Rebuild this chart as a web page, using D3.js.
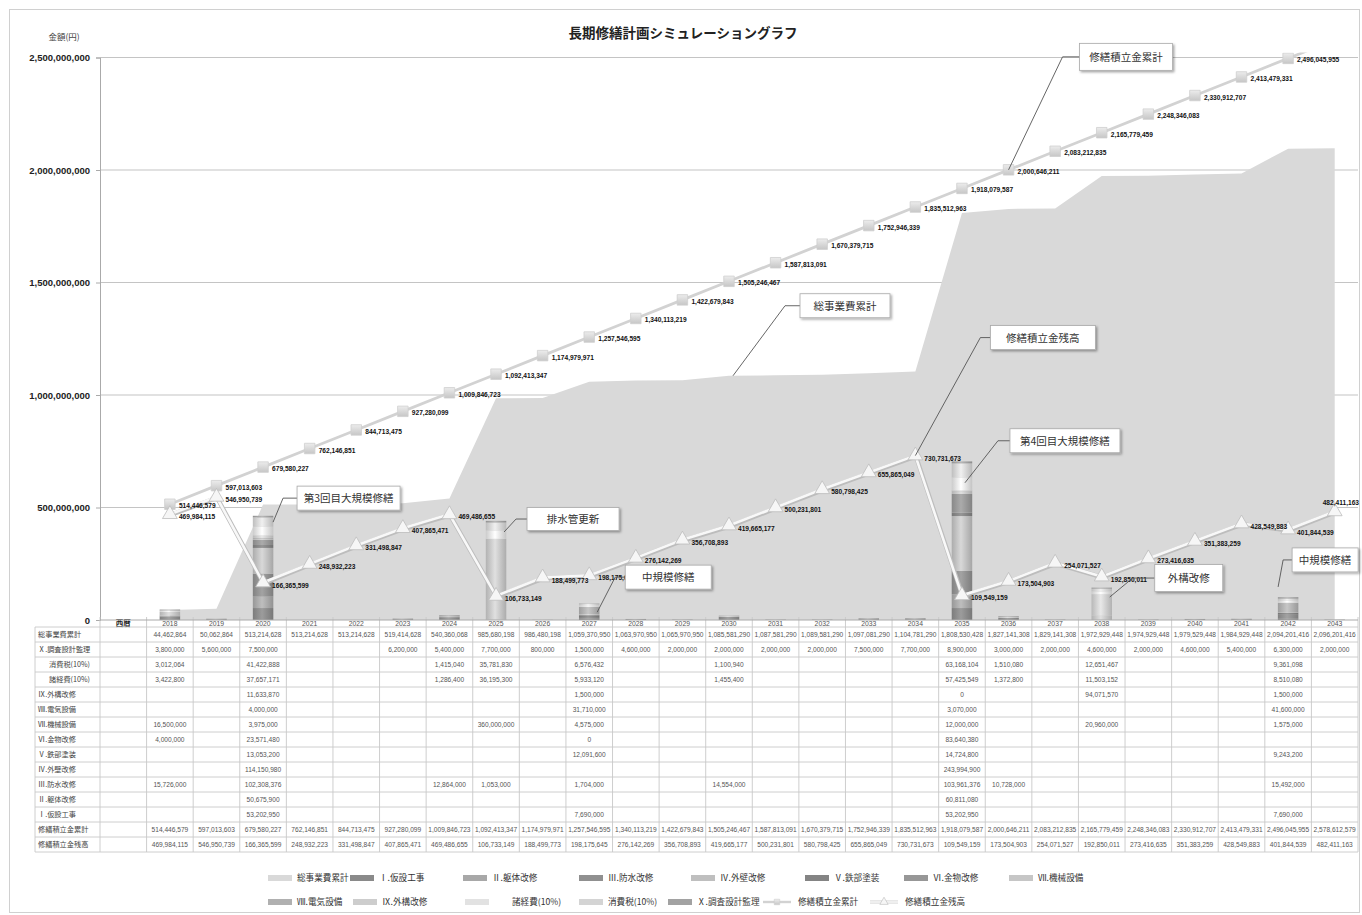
<!DOCTYPE html>
<html><head><meta charset="utf-8">
<script src="https://cdn.jsdelivr.net/npm/d3@7"></script>
<style>
body{margin:0;background:#fff;}
svg{font-family:"Noto Sans CJK JP","Noto Sans",sans-serif;}
</style></head><body>
<svg id="c" width="1362" height="915"></svg>
<script>
// ---------------- DATA ----------------
const headerLabel = "西暦";
const years = ["2018","2019","2020","2021","2022","2023","2024","2025","2026","2027","2028","2029","2030",
  "2031","2032","2033","2034","2035","2036","2037","2038","2039","2040","2041","2042","2043"];
const categories = [headerLabel, ...years];
const N = null;
const totalCumulative = [44462864,50062864,513214628,513214628,513214628,519414628,540360068,985680198,986480198,
  1059370950,1063970950,1065970950,1085581290,1087581290,1089581290,1097081290,1104781290,1808530428,1827141308,
  1829141308,1972929448,1974929448,1979529448,1984929448,2094201416,2096201416];
const costX = [3800000,5600000,7500000,N,N,6200000,5400000,7700000,800000,1500000,4600000,2000000,2000000,2000000,
  2000000,7500000,7700000,8900000,3000000,2000000,4600000,2000000,4600000,5400000,6300000,2000000];
const consumptionTax = [3012064,N,41422888,N,N,N,1415040,35781830,N,6576432,N,N,1100940,N,N,N,N,63168104,1510080,N,
  12651467,N,N,N,9361098,N];
const overhead = [3422800,N,37657171,N,N,N,1286400,36195300,N,5933120,N,N,1455400,N,N,N,N,57425549,1372800,N,
  11503152,N,N,N,8510080,N];
const cost9 = [N,N,11633870,N,N,N,N,N,N,1500000,N,N,N,N,N,N,N,0,N,N,94071570,N,N,N,1500000,N];
const cost8 = [N,N,4000000,N,N,N,N,N,N,31710000,N,N,N,N,N,N,N,3070000,N,N,N,N,N,N,41600000,N];
const cost7 = [16500000,N,3975000,N,N,N,N,360000000,N,4575000,N,N,N,N,N,N,N,12000000,N,N,20960000,N,N,N,1575000,N];
const cost6 = [4000000,N,23571480,N,N,N,N,N,N,0,N,N,N,N,N,N,N,83640380,N,N,N,N,N,N,N,N];
const cost5 = [N,N,13053200,N,N,N,N,N,N,12091600,N,N,N,N,N,N,N,14724800,N,N,N,N,N,N,9243200,N];
const cost4 = [N,N,114150980,N,N,N,N,N,N,N,N,N,N,N,N,N,N,243994900,N,N,N,N,N,N,N,N];
const cost3 = [15726000,N,102308376,N,N,N,12864000,1053000,N,1704000,N,N,14554000,N,N,N,N,103961376,10728000,N,
  N,N,N,N,15492000,N];
const cost2 = [N,N,50675900,N,N,N,N,N,N,N,N,N,N,N,N,N,N,60811080,N,N,N,N,N,N,N,N];
const cost1 = [N,N,53202950,N,N,N,N,N,N,7690000,N,N,N,N,N,N,N,53202950,N,N,N,N,N,N,7690000,N];
const reserveCumulative = [514446579,597013603,679580227,762146851,844713475,927280099,1009846723,1092413347,
  1174979971,1257546595,1340113219,1422679843,1505246467,1587813091,1670379715,1752946339,1835512963,1918079587,
  2000646211,2083212835,2165779459,2248346083,2330912707,2413479331,2496045955,2578612579];
const reserveBalance = [469984115,546950739,166365599,248932223,331498847,407865471,469486655,106733149,188499773,
  198175645,276142269,356708893,419665177,500231801,580798425,655865049,730731673,109549159,173504903,254071527,
  192850011,273416635,351383259,428549883,401844539,482411163];
const yTicks = [0,500000000,1000000000,1500000000,2000000000,2500000000];

const costKeys = ["Ⅰ.仮設工事","Ⅱ.躯体改修","Ⅲ.防水改修","Ⅳ.外壁改修","Ⅴ.鉄部塗装","Ⅵ.金物改修","Ⅶ.機械設備",
  "Ⅷ.電気設備","Ⅸ.外構改修","諸経費(10%)","消費税(10%)","Ⅹ.調査設計監理"];
const costArrays = [cost1,cost2,cost3,cost4,cost5,cost6,cost7,cost8,cost9,overhead,consumptionTax,costX];
const costColors = ["#8a8a8a","#a8a8a8","#909090","#bfbfbf","#848484","#979797","#c6c6c6","#b0b0b0","#cdcdcd",
  "#e2e2e2","#d4d4d4","#a2a2a2"];

// ---------------- SETUP ----------------
const W = 1362, H = 915;
const svg = d3.select("#c");
const plotL = 100, plotR = 1358, plotT = 57.5, plotB = 620;
const x = d3.scaleBand().domain(categories).range([plotL, plotR]);
const y = d3.scaleLinear().domain([0, 2500000000]).range([plotB, plotT]);
const yMax = y.domain()[1];
const cx = c => x(c) + x.bandwidth() / 2;
const barW = x.bandwidth() * 0.44;
const fmt = d3.format(",");

const defs = svg.append("defs");
costColors.forEach((c, i) => {
  const g = defs.append("linearGradient").attr("id", "g" + i).attr("x1", "0").attr("x2", "1").attr("y1", "0").attr("y2", "0");
  g.append("stop").attr("offset", "0%").attr("stop-color", d3.color(c).darker(0.3));
  g.append("stop").attr("offset", "45%").attr("stop-color", d3.color(c).brighter(0.35));
  g.append("stop").attr("offset", "100%").attr("stop-color", d3.color(c).darker(0.4));
});
const sg = defs.append("linearGradient").attr("id", "sq").attr("x1", "0").attr("x2", "0").attr("y1", "0").attr("y2", "1");
sg.append("stop").attr("offset", "0%").attr("stop-color", "#ececec");
sg.append("stop").attr("offset", "100%").attr("stop-color", "#c6c6c6");
const sh = defs.append("filter").attr("id", "shadow").attr("x", "-20%").attr("y", "-20%").attr("width", "150%").attr("height", "160%");
sh.append("feDropShadow").attr("dx", 1.5).attr("dy", 1.5).attr("stdDeviation", 1.2).attr("flood-color", "#000").attr("flood-opacity", 0.35);
defs.append("clipPath").attr("id", "plotClip").append("rect")
  .attr("x", 0).attr("y", plotT - 5).attr("width", W).attr("height", H);

// outer frame
svg.append("rect").attr("x", 9.5).attr("y", 9.5).attr("width", 1350).attr("height", 903)
  .attr("fill", "#fff").attr("stroke", "#d0d0d0");

// title
svg.append("text").attr("x", 683).attr("y", 38).attr("text-anchor", "middle")
  .attr("font-size", 13.5).attr("font-weight", "bold").attr("fill", "#222").text("長期修繕計画シミュレーショングラフ");
svg.append("text").attr("x", 64).attr("y", 40).attr("text-anchor", "middle")
  .attr("font-size", 8.5).attr("fill", "#444").text("金額(円)");

// gridlines
svg.append("g").selectAll("line").data(yTicks.filter(d => d > 0)).join("line")
  .attr("x1", plotL).attr("x2", plotR).attr("y1", d => y(d)).attr("y2", d => y(d))
  .attr("stroke", "#c4c4c4").attr("stroke-width", 1.2);

// y axis
const ya = svg.append("g").attr("transform", `translate(${plotL},0)`)
  .call(d3.axisLeft(y).tickValues(yTicks).tickFormat(fmt).tickSize(4).tickPadding(6));
ya.select(".domain").attr("stroke", "#aaa");
ya.selectAll(".tick line").attr("stroke", "#aaa");
ya.selectAll("text").attr("font-family", "Liberation Sans, Arial, sans-serif").attr("font-size", 9.5)
  .attr("font-weight", "bold").attr("fill", "#222");

// area: 総事業費累計
const areaData = years.map((yr, i) => ({ cat: yr, v: totalCumulative[i] }));
svg.append("path").datum(areaData)
  .attr("d", d3.area().x(d => cx(d.cat)).y0(plotB).y1(d => y(d.v)))
  .attr("fill", "#d9d9d9");

// stacked bars
const rows = years.map((yr, i) => {
  const o = { cat: yr };
  costKeys.forEach((k, j) => { o[k] = costArrays[j][i] || 0; });
  return o;
});
const stacked = d3.stack().keys(costKeys)(rows);
svg.append("g").selectAll("g").data(stacked).join("g")
  .attr("fill", (d, i) => `url(#g${i})`)
  .selectAll("rect").data(d => d.filter(p => p[1] - p[0] > 0)).join("rect")
  .attr("x", d => cx(d.data.cat) - barW / 2).attr("width", barW)
  .attr("y", d => y(d[1])).attr("height", d => y(d[0]) - y(d[1]));

// lines (clipped to the plot's top like the original)
const lines = svg.append("g").attr("clip-path", "url(#plotClip)");
const cumData = years.map((yr, i) => ({ cat: yr, v: reserveCumulative[i] }));
const balData = years.map((yr, i) => ({ cat: yr, v: reserveBalance[i] }));
const line = d3.line().x(d => cx(d.cat)).y(d => y(d.v));
lines.append("path").datum(cumData).attr("d", line).attr("fill", "none").attr("stroke", "#d2d2d2").attr("stroke-width", 2.8);
lines.append("path").datum(balData).attr("d", line).attr("fill", "none").attr("stroke", "#bdbdbd").attr("stroke-width", 4.4)
  .attr("transform", "translate(0.6,0.8)");
lines.append("path").datum(balData).attr("d", line).attr("fill", "none").attr("stroke", "#f8f8f8").attr("stroke-width", 2.6);

// markers (points above the axis maximum are off the chart)
lines.append("g").selectAll("path").data(cumData.filter(d => d.v <= yMax)).join("path")
  .attr("d", d3.symbol(d3.symbolSquare, 110))
  .attr("transform", d => `translate(${cx(d.cat)},${y(d.v)})`)
  .attr("fill", "url(#sq)").attr("stroke", "#cfcfcf").attr("stroke-width", 0.8);
lines.append("g").selectAll("path").data(balData).join("path")
  .attr("d", d3.symbol(d3.symbolTriangle, 95))
  .attr("transform", d => `translate(${cx(d.cat)},${y(d.v)})`)
  .attr("fill", "#f6f6f6").attr("stroke", "#bcbcbc").attr("stroke-width", 0.8);

// data labels
const lbl = svg.append("g").attr("font-family", "Liberation Sans, Arial, sans-serif")
  .attr("font-size", 6.6).attr("font-weight", "bold").attr("fill", "#111");
lbl.selectAll("text.c").data(cumData.filter(d => d.v <= yMax)).join("text").attr("class", "c")
  .attr("x", d => cx(d.cat) + 9).attr("y", d => y(d.v) + 4).text(d => fmt(d.v));
const lastBal = balData.length - 1;
lbl.selectAll("text.b").data(balData).join("text").attr("class", "b")
  .attr("x", (d, i) => i === lastBal ? W - 3 : cx(d.cat) + 9)
  .attr("y", (d, i) => i === lastBal ? y(d.v) - 6 : y(d.v) + 5)
  .attr("text-anchor", (d, i) => i === lastBal ? "end" : "start")
  .text(d => fmt(d.v));

// callouts
const callouts = [
  { text: "修繕積立金累計", cat: "2036", v: reserveCumulative[18], ox: 0, bx: 71, by: -113, w: 93, h: 27, e: 17 },
  { text: "総事業費累計", cat: "2030", v: totalCumulative[12], ox: 4, bx: 67, by: -70, w: 90, h: 24, e: 15 },
  { text: "修繕積立金残高", cat: "2034", v: reserveBalance[16], ox: 0, bx: 75, by: -118, w: 105, h: 24, e: 10 },
  { text: "第4回目大規模修繕", cat: "2035", v: 610000000, ox: 3, bx: 45, by: -42, w: 110, h: 24, e: 12 },
  { text: "第3回目大規模修繕", cat: "2020", v: 435000000, ox: 10, bx: 24, by: -24, w: 103, h: 24, e: 14 },
  { text: "排水管更新", cat: "2025", v: 391000000, ox: 8, bx: 23, by: -13, w: 92, h: 23, e: 11 },
  { text: "中規模修繕", cat: "2027", v: 35000000, ox: 8, bx: 28, by: -35, w: 86, h: 24, e: 10 },
  { text: "外構改修", cat: "2038", v: 102000000, ox: 8, bx: 45, by: -19, w: 68, h: 27, e: 22 },
  { text: "中規模修繕", cat: "2042", v: 147000000, ox: -10, bx: 14, by: -27, w: 66, h: 24, e: 9 }
];
const co = svg.append("g").selectAll("g").data(callouts).join("g");
co.each(function (d) {
  const g = d3.select(this);
  const tx = cx(d.cat) + d.ox, ty = y(d.v);
  const bl = tx + d.bx, bc = ty + d.by;
  g.append("polyline").attr("points", `${tx},${ty} ${bl - d.e},${bc} ${bl},${bc}`)
    .attr("fill", "none").attr("stroke", "#555").attr("stroke-width", 0.9);
  g.append("rect").attr("x", bl).attr("y", bc - d.h / 2).attr("width", d.w).attr("height", d.h)
    .attr("fill", "#fff").attr("stroke", "#a8a8a8").attr("stroke-width", 0.8).attr("filter", "url(#shadow)");
  g.append("text").attr("x", bl + d.w / 2).attr("y", bc + 4).attr("text-anchor", "middle")
    .attr("font-size", 10.5).attr("fill", "#333").text(d.text);
});

// ---------------- DATA TABLE ----------------
const tableRows = [
  ["総事業費累計", totalCumulative, 0], ["Ⅹ.調査設計監理", costX, 0], ["消費税(10%)", consumptionTax, 1],
  ["諸経費(10%)", overhead, 1], ["Ⅸ.外構改修", cost9, 0], ["Ⅷ.電気設備", cost8, 0], ["Ⅶ.機械設備", cost7, 0],
  ["Ⅵ.金物改修", cost6, 0], ["Ⅴ.鉄部塗装", cost5, 0], ["Ⅳ.外壁改修", cost4, 0], ["Ⅲ.防水改修", cost3, 0],
  ["Ⅱ.躯体改修", cost2, 0], ["Ⅰ.仮設工事", cost1, 0], ["修繕積立金累計", reserveCumulative, 0],
  ["修繕積立金残高", reserveBalance, 0]
];
const tblL = 35, hdrT = 619, rowT = 627, rowH = 15;
const tblB = rowT + rowH * tableRows.length;
const tg = svg.append("g");
tg.selectAll("text.h").data(categories).join("text").attr("class", "h")
  .attr("x", d => cx(d)).attr("y", hdrT + 6.5).attr("text-anchor", "middle")
  .attr("font-size", d => d === headerLabel ? 7.5 : 6.8)
  .attr("font-weight", d => d === headerLabel ? "bold" : "normal")
  .attr("font-family", d => d === headerLabel ? null : "Liberation Sans, Arial, sans-serif")
  .attr("fill", d => d === headerLabel ? "#222" : "#555").text(d => d);
const boundaries = categories.map(c => x(c)).concat([plotR]);
tg.selectAll("line.v").data(boundaries).join("line").attr("class", "v")
  .attr("x1", d => d).attr("x2", d => d).attr("y1", hdrT - 2).attr("y2", tblB)
  .attr("stroke", "#c8c8c8").attr("stroke-width", 0.9);
tg.append("line").attr("x1", tblL).attr("x2", tblL).attr("y1", rowT).attr("y2", tblB).attr("stroke", "#c8c8c8").attr("stroke-width", 0.9);
tg.selectAll("line.h").data(d3.range(tableRows.length + 1)).join("line").attr("class", "h")
  .attr("x1", tblL).attr("x2", plotR).attr("y1", i => rowT + i * rowH).attr("y2", i => rowT + i * rowH)
  .attr("stroke", "#c8c8c8").attr("stroke-width", 0.9);
tg.append("line").attr("x1", plotL).attr("x2", plotR).attr("y1", plotB).attr("y2", plotB).attr("stroke", "#aaa");
tableRows.forEach((r, ri) => {
  const yc = rowT + ri * rowH + rowH / 2 + 2.5;
  tg.append("text").attr("x", tblL + 3 + (r[2] ? 11 : 0)).attr("y", yc).attr("font-size", 7.2)
    .attr("fill", "#444").text(r[0]);
  tg.append("g").selectAll("text").data(years.map((yr, i) => ({ yr, v: r[1][i] })).filter(d => d.v !== null))
    .join("text").attr("x", d => cx(d.yr)).attr("y", yc).attr("text-anchor", "middle")
    .attr("font-family", "Liberation Sans, Arial, sans-serif").attr("font-size", 6.6).attr("fill", "#555")
    .text(d => fmt(d.v))
    .each(function () {
      const w = this.getComputedTextLength(), mx = x.bandwidth() - 2;
      if (w > mx) d3.select(this).attr("textLength", mx).attr("lengthAdjust", "spacingAndGlyphs");
    });
});

// ---------------- LEGEND ----------------
const legendItems = [
  { name: "総事業費累計", type: "rect", color: "#d9d9d9", x: 268, row: 0 },
  { name: costKeys[0], type: "rect", color: costColors[0], x: 350, row: 0 },
  { name: costKeys[1], type: "rect", color: costColors[1], x: 463, row: 0 },
  { name: costKeys[2], type: "rect", color: costColors[2], x: 579, row: 0 },
  { name: costKeys[3], type: "rect", color: costColors[3], x: 691, row: 0 },
  { name: costKeys[4], type: "rect", color: costColors[4], x: 805, row: 0 },
  { name: costKeys[5], type: "rect", color: costColors[5], x: 904, row: 0 },
  { name: costKeys[6], type: "rect", color: costColors[6], x: 1009, row: 0 },
  { name: costKeys[7], type: "rect", color: costColors[7], x: 268, row: 1 },
  { name: costKeys[8], type: "rect", color: costColors[8], x: 353, row: 1 },
  { name: costKeys[9], type: "rect", color: costColors[9], x: 465, row: 1, gap: 18 },
  { name: costKeys[10], type: "rect", color: costColors[10], x: 579, row: 1 },
  { name: costKeys[11], type: "rect", color: costColors[11], x: 668, row: 1 },
  { name: "修繕積立金累計", type: "sq", x: 763, row: 1 },
  { name: "修繕積立金残高", type: "tri", x: 870, row: 1 }
];
const lg = svg.append("g").selectAll("g").data(legendItems).join("g")
  .attr("transform", d => `translate(${d.x},${d.row ? 902 : 878})`);
lg.each(function (d) {
  const g = d3.select(this);
  if (d.type === "rect") {
    g.append("rect").attr("x", 0).attr("y", -3).attr("width", 24).attr("height", 6).attr("fill", d.color);
  } else if (d.type === "sq") {
    g.append("line").attr("x1", 0).attr("x2", 28).attr("y1", 0).attr("y2", 0).attr("stroke", "#d2d2d2").attr("stroke-width", 2.4);
    g.append("path").attr("d", d3.symbol(d3.symbolSquare, 30)).attr("transform", "translate(14,0)")
      .attr("fill", "url(#sq)").attr("stroke", "#cfcfcf").attr("stroke-width", 0.6);
  } else {
    g.append("line").attr("x1", 0).attr("x2", 28).attr("y1", 0).attr("y2", 0).attr("stroke", "#cfcfcf").attr("stroke-width", 3);
    g.append("line").attr("x1", 0).attr("x2", 28).attr("y1", 0).attr("y2", 0).attr("stroke", "#f7f7f7").attr("stroke-width", 1.6);
    g.append("path").attr("d", d3.symbol(d3.symbolTriangle, 30)).attr("transform", "translate(14,0)")
      .attr("fill", "#f6f6f6").attr("stroke", "#bcbcbc").attr("stroke-width", 0.6);
  }
  g.append("text").attr("x", (d.type === "rect" ? 29 : 35) + (d.gap || 0)).attr("y", 3.2)
    .attr("font-size", 8.6).attr("fill", "#333").text(d.name);
});
</script>
</body></html>
